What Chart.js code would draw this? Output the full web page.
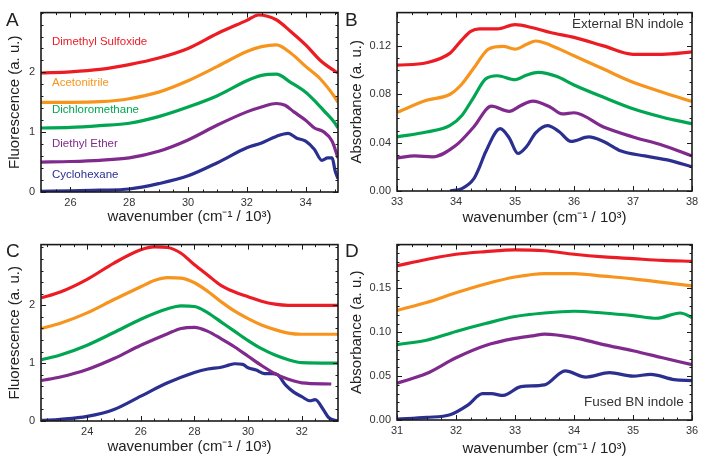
<!DOCTYPE html>
<html>
<head>
<meta charset="utf-8">
<script src="https://cdn.jsdelivr.net/npm/chart.js@4.4.1/dist/chart.umd.min.js"></script>
<style>
  html, body { margin: 0; padding: 0; background: #fff; }
  body { width: 704px; height: 464px; position: relative; overflow: hidden;
         font-family: 'Liberation Sans', Arial, Helvetica, sans-serif; }
  .wrap { position: absolute; }
  .lbl { position: absolute; white-space: nowrap; transform: translateY(-50%); line-height: 1; }
  .panel { position: absolute; font-size: 19px; color: #222; line-height: 1; }
</style>
</head>
<body>
<div class="wrap" style="left:0;top:0;width:352px;height:232px"><canvas id="cA"></canvas></div>
<div class="wrap" style="left:344px;top:0;width:360px;height:232px"><canvas id="cB"></canvas></div>
<div class="wrap" style="left:0;top:232px;width:352px;height:232px"><canvas id="cC"></canvas></div>
<div class="wrap" style="left:344px;top:232px;width:360px;height:232px"><canvas id="cD"></canvas></div>

<div class="panel" style="left:6px;top:10px">A</div>
<div class="panel" style="left:345px;top:10px">B</div>
<div class="panel" style="left:6px;top:241px">C</div>
<div class="panel" style="left:345px;top:241px">D</div>

<div class="lbl" style="left:52px;top:42px;font-size:11.5px;color:#ec1c24">Dimethyl Sulfoxide</div>
<div class="lbl" style="left:52px;top:83px;font-size:11.5px;color:#f7941d">Acetonitrile</div>
<div class="lbl" style="left:52px;top:110px;font-size:11.5px;color:#00a651">Dichloromethane</div>
<div class="lbl" style="left:52px;top:144px;font-size:11.5px;color:#7f2a8c">Diethyl Ether</div>
<div class="lbl" style="left:52px;top:175px;font-size:11.5px;color:#2b2f8f">Cyclohexane</div>
<div class="lbl" style="left:572px;top:24px;font-size:13.5px;color:#333">External BN indole</div>
<div class="lbl" style="left:584px;top:402px;font-size:13.5px;color:#333">Fused BN indole</div>

<script>
// ---------- colours per solvent ----------
const solventNames = ['Dimethyl Sulfoxide', 'Acetonitrile', 'Dichloromethane', 'Diethyl Ether', 'Cyclohexane'];
const solventColors = ['#ec1c24', '#f7941d', '#00a651', '#7f2a8c', '#2b2f8f'];

// ---------- Panel A: fluorescence, external BN indole ----------
const aXTicks = [26, 28, 30, 32, 34];
const aYTicks = [0, 1, 2];
const aDmsoX = [25, 26, 27, 28, 29, 30, 31, 32, 32.4, 33, 33.5, 34, 34.5, 35, 35.1];
const aDmsoY = [1.99, 2.01, 2.05, 2.13, 2.24, 2.40, 2.65, 2.87, 2.96, 2.88, 2.68, 2.46, 2.20, 2.02, 1.99];
const aAcnX = [25, 26, 27, 28, 29, 30, 31, 32, 32.5, 33, 33.5, 34, 34.5, 35, 35.1];
const aAcnY = [1.50, 1.50, 1.51, 1.56, 1.67, 1.86, 2.10, 2.35, 2.43, 2.46, 2.32, 2.10, 1.89, 1.58, 1.50];
const aDcmX = [25, 26, 27, 28, 29, 30, 31, 32, 32.5, 33, 33.5, 34, 34.3, 34.6, 35, 35.1];
const aDcmY = [1.07, 1.08, 1.11, 1.15, 1.26, 1.42, 1.61, 1.86, 1.95, 1.97, 1.83, 1.67, 1.53, 1.37, 1.15, 1.07];
const aEtherX = [25, 26, 27, 28, 29, 30, 31, 32, 32.5, 33, 33.3, 33.6, 34, 34.3, 34.6, 34.9, 35.1];
const aEtherY = [0.50, 0.51, 0.53, 0.57, 0.68, 0.87, 1.12, 1.34, 1.42, 1.48, 1.45, 1.34, 1.20, 1.07, 1.01, 0.85, 0.57];
const aHexX = [25, 26, 27, 28, 29, 30, 31, 32, 32.5, 33, 33.4, 33.7, 34, 34.3, 34.55, 34.75, 34.9, 35.0, 35.1];
const aHexY = [0.01, 0.02, 0.03, 0.05, 0.14, 0.27, 0.49, 0.74, 0.82, 0.93, 0.98, 0.90, 0.85, 0.71, 0.53, 0.57, 0.57, 0.36, 0.22];

// ---------- Panel B: absorbance, external BN indole ----------
const bXTicks = [33, 34, 35, 36, 37, 38];
const bYTicks = [0, 0.04, 0.08, 0.12];
const bDmsoX = [33, 33.5, 33.9, 34.1, 34.25, 34.4, 34.7, 35.0, 35.3, 35.6, 36, 36.5, 37, 37.5, 38];
const bDmsoY = [0.104, 0.106, 0.114, 0.125, 0.132, 0.134, 0.134, 0.1375, 0.135, 0.131, 0.127, 0.120, 0.113, 0.113, 0.115];
const bAcnX = [33, 33.5, 33.9, 34.1, 34.33, 34.55, 34.8, 35.0, 35.2, 35.35, 35.6, 36, 36.5, 37, 37.5, 38];
const bAcnY = [0.065, 0.075, 0.080, 0.0885, 0.1036, 0.1173, 0.1195, 0.1173, 0.1214, 0.124, 0.1206, 0.1118, 0.1008, 0.0899, 0.0817, 0.074];
const bDcmX = [33, 33.5, 33.9, 34.1, 34.3, 34.5, 34.7, 35.0, 35.2, 35.4, 35.7, 36, 36.5, 37, 37.5, 38];
const bDcmY = [0.0447, 0.0488, 0.0543, 0.0625, 0.0775, 0.0926, 0.0953, 0.092, 0.0959, 0.098, 0.0948, 0.0877, 0.0775, 0.068, 0.061, 0.0556];
const bEtherX = [33, 33.3, 33.6, 34.0, 34.3, 34.6, 34.9, 35.1, 35.3, 35.6, 35.8, 36.0, 36.5, 37, 37.5, 38];
const bEtherY = [0.0274, 0.029, 0.0282, 0.0378, 0.0529, 0.0701, 0.0658, 0.0707, 0.0743, 0.0693, 0.0638, 0.0647, 0.0529, 0.0447, 0.0378, 0.029];
const bHexX = [33.9, 34.1, 34.3, 34.4, 34.5, 34.75, 34.9, 35.05, 35.2, 35.35, 35.55, 35.75, 35.95, 36.25, 36.5, 36.8, 37.2, 37.6, 38];
const bHexY = [0.0, 0.002, 0.010, 0.020, 0.032, 0.0515, 0.044, 0.031, 0.037, 0.048, 0.054, 0.049, 0.041, 0.0447, 0.041, 0.033, 0.029, 0.0255, 0.020];

// ---------- Panel C: fluorescence, fused BN indole ----------
const cXTicks = [24, 26, 28, 30, 32];
const cYTicks = [0, 1, 2];
const cDmsoX = [22.3, 23, 24, 25, 26, 26.5, 27, 27.5, 28, 28.5, 29, 29.5, 30, 30.5, 31, 31.5, 32, 33.35];
const cDmsoY = [2.13, 2.23, 2.45, 2.73, 2.96, 3.01, 3.0, 2.9, 2.7, 2.52, 2.34, 2.23, 2.15, 2.07, 2.02, 2.0, 2.0, 2.0];
const cAcnX = [22.3, 23, 24, 25, 26, 26.5, 27, 27.5, 28, 28.5, 29, 29.5, 30, 30.5, 31, 31.5, 32, 33.35];
const cAcnY = [1.6, 1.69, 1.87, 2.1, 2.32, 2.43, 2.48, 2.47, 2.39, 2.24, 2.06, 1.9, 1.77, 1.66, 1.58, 1.52, 1.50, 1.50];
const cDcmX = [22.3, 23, 24, 25, 26, 27, 27.5, 28, 28.5, 29, 29.5, 30, 30.5, 31, 31.5, 32, 33.35];
const cDcmY = [1.06, 1.14, 1.31, 1.53, 1.76, 1.94, 1.99, 1.98, 1.87, 1.71, 1.55, 1.39, 1.25, 1.14, 1.06, 1.01, 1.0];
const cEtherX = [22.3, 23, 24, 25, 26, 27, 27.5, 28, 28.5, 29, 29.5, 30, 30.5, 31, 31.5, 32, 33.1];
const cEtherY = [0.70, 0.76, 0.89, 1.08, 1.31, 1.51, 1.6, 1.62, 1.55, 1.42, 1.28, 1.12, 0.96, 0.82, 0.72, 0.66, 0.64];
const cHexX = [22.3, 23, 24, 25, 26, 27, 28, 28.5, 29, 29.3, 29.5, 29.8, 30, 30.3, 30.6, 30.9, 31.1, 31.4, 31.7, 32, 32.3, 32.5, 32.8, 33.0, 33.35];
const cHexY = [0.01, 0.03, 0.08, 0.2, 0.43, 0.66, 0.84, 0.9, 0.93, 0.97, 0.99, 0.98, 0.92, 0.88, 0.82, 0.82, 0.8, 0.62, 0.5, 0.42, 0.35, 0.37, 0.2, 0.06, 0.0];

// ---------- Panel D: absorbance, fused BN indole ----------
const dXTicks = [31, 32, 33, 34, 35, 36];
const dYTicks = [0, 0.05, 0.10, 0.15];
const dDmsoX = [31, 31.5, 32, 32.5, 33, 33.5, 34, 34.5, 35, 35.5, 36];
const dDmsoY = [0.176, 0.183, 0.189, 0.192, 0.194, 0.193, 0.189, 0.186, 0.184, 0.182, 0.181];
const dAcnX = [31, 31.5, 32, 32.5, 33, 33.5, 34, 34.5, 35, 35.5, 36];
const dAcnY = [0.125, 0.134, 0.145, 0.155, 0.163, 0.167, 0.167, 0.164, 0.161, 0.157, 0.153];
const dDcmX = [31, 31.5, 32, 32.5, 33, 33.5, 34, 34.5, 35, 35.4, 35.8, 36];
const dDcmY = [0.086, 0.091, 0.101, 0.110, 0.118, 0.122, 0.124, 0.122, 0.119, 0.116, 0.122, 0.117];
const dEtherX = [31, 31.5, 32, 32.5, 33, 33.3, 33.5, 34, 34.5, 35, 35.5, 36];
const dEtherY = [0.042, 0.053, 0.071, 0.085, 0.093, 0.096, 0.098, 0.094, 0.086, 0.079, 0.071, 0.063];
const dHexX = [31, 31.5, 31.9, 32.2, 32.45, 32.6, 32.8, 33.1, 33.5, 33.85, 34.2, 34.6, 35, 35.3, 35.7, 36];
const dHexY = [0.001, 0.003, 0.006, 0.017, 0.030, 0.030, 0.028, 0.038, 0.040, 0.056, 0.049, 0.054, 0.050, 0.052, 0.046, 0.045];

const xTitle = 'wavenumber (cm\u207B\u00B9 / 10\u00B3)';
const FONT = "'Liberation Sans', Arial, Helvetica, sans-serif";

function series(xs, ys, i) {
  return {
    label: solventNames[i],
    data: xs.map((x, k) => ({ x: x, y: ys[k] })),
    borderColor: solventColors[i],
    borderWidth: 3.2,
    pointRadius: 0,
    fill: false,
    cubicInterpolationMode: 'monotone',
    showLine: true
  };
}

const framePlugin = {
  id: 'frame',
  afterDatasetsDraw(chart, args, opts) {
    const { ctx, chartArea: a } = chart;
    const xs = chart.scales.x, ys = chart.scales.y;
    ctx.save();
    ctx.strokeStyle = '#1a1a1a';
    ctx.lineWidth = 1;
    ctx.beginPath();
    const drawX = (v, len) => {
      const p = Math.round(xs.getPixelForValue(v)) + 0.5;
      ctx.moveTo(p, a.bottom); ctx.lineTo(p, a.bottom - len);
      ctx.moveTo(p, a.top); ctx.lineTo(p, a.top + len);
    };
    const drawY = (v, len) => {
      const p = Math.round(ys.getPixelForValue(v)) + 0.5;
      ctx.moveTo(a.left, p); ctx.lineTo(a.left + len, p);
      ctx.moveTo(a.right, p); ctx.lineTo(a.right - len, p);
    };
    xs.ticks.forEach(t => drawX(t.value, 5));
    ys.ticks.forEach(t => drawY(t.value, 5));
    const mx = opts.minorX, my = opts.minorY;
    for (let v = Math.ceil(xs.min / mx - 1e-9) * mx; v <= xs.max + 1e-9; v += mx) drawX(v, 2.5);
    for (let v = Math.ceil(ys.min / my - 1e-9) * my; v <= ys.max + 1e-9; v += my) drawY(v, 2.5);
    ctx.stroke();
    ctx.lineWidth = 1.6;
    ctx.strokeRect(a.left, a.top, a.right - a.left, a.bottom - a.top);
    ctx.restore();
  }
};

function makeChart(id, datasets, c) {
  return new Chart(document.getElementById(id), {
    type: 'scatter',
    data: { datasets: datasets },
    plugins: [framePlugin],
    options: {
      responsive: true,
      maintainAspectRatio: false,
      animation: false,
      layout: { padding: { top: c.padTop, right: c.padRight, left: 0, bottom: 0 } },
      plugins: {
        legend: { display: false },
        tooltip: { enabled: false },
        frame: { minorX: c.minorX, minorY: c.minorY }
      },
      scales: {
        x: {
          type: 'linear', min: c.xMin, max: c.xMax,
          grid: { display: false, drawTicks: false },
          border: { display: false },
          afterBuildTicks: s => { s.ticks = c.xTicks.map(v => ({ value: v })); },
          afterFit: s => { s.height = c.xHeight; },
          ticks: { color: '#333', font: { family: FONT, size: 11 }, padding: 4, maxRotation: 0,
                   callback: v => String(v) },
          title: { display: true, text: xTitle, color: '#222', font: { family: FONT, size: 15 },
                   padding: { top: 0, bottom: c.xTitlePad } }
        },
        y: {
          type: 'linear', min: c.yMin, max: c.yMax,
          grid: { display: false, drawTicks: false },
          border: { display: false },
          afterBuildTicks: s => { s.ticks = c.yTicks.map(v => ({ value: v })); },
          afterFit: s => { s.width = c.yWidth; },
          ticks: { color: '#333', font: { family: FONT, size: 11 }, padding: 6,
                   callback: v => v.toFixed(c.yDec) },
          title: { display: true, text: c.yTitle, color: '#222', font: { family: FONT, size: 15 },
                   padding: { top: c.yTitlePad, bottom: 0 } }
        }
      }
    }
  });
}

makeChart('cA', [
  series(aDmsoX, aDmsoY, 0), series(aAcnX, aAcnY, 1), series(aDcmX, aDcmY, 2),
  series(aEtherX, aEtherY, 3), series(aHexX, aHexY, 4)
], { xMin: 25, xMax: 35.1, yMin: 0, yMax: 3.0, xTicks: aXTicks, yTicks: aYTicks, yDec: 0,
     yTitle: 'Fluorescence (a. u.)', yWidth: 41, xHeight: 40, padTop: 9, padRight: 14,
     xTitlePad: 6, yTitlePad: 6, minorX: 0.5, minorY: 0.2 });

makeChart('cB', [
  series(bDmsoX, bDmsoY, 0), series(bAcnX, bAcnY, 1), series(bDcmX, bDcmY, 2),
  series(bEtherX, bEtherY, 3), series(bHexX, bHexY, 4)
], { xMin: 33, xMax: 38, yMin: 0, yMax: 0.1475, xTicks: bXTicks, yTicks: bYTicks, yDec: 2,
     yTitle: 'Absorbance (a. u.)', yWidth: 53, xHeight: 41, padTop: 9, padRight: 12,
     xTitlePad: 5, yTitlePad: 4, minorX: 0.25, minorY: 0.01 });

makeChart('cC', [
  series(cDmsoX, cDmsoY, 0), series(cAcnX, cAcnY, 1), series(cDcmX, cDcmY, 2),
  series(cEtherX, cEtherY, 3), series(cHexX, cHexY, 4)
], { xMin: 22.28, xMax: 33.35, yMin: 0, yMax: 3.05, xTicks: cXTicks, yTicks: cYTicks, yDec: 0,
     yTitle: 'Fluorescence (a. u.)', yWidth: 41, xHeight: 43, padTop: 6, padRight: 14,
     xTitlePad: 8, yTitlePad: 6, minorX: 0.5, minorY: 0.2 });

makeChart('cD', [
  series(dDmsoX, dDmsoY, 0), series(dAcnX, dAcnY, 1), series(dDcmX, dDcmY, 2),
  series(dEtherX, dEtherY, 3), series(dHexX, dHexY, 4)
], { xMin: 31, xMax: 36, yMin: 0, yMax: 0.2, xTicks: dXTicks, yTicks: dYTicks, yDec: 2,
     yTitle: 'Absorbance (a. u.)', yWidth: 53, xHeight: 44, padTop: 6, padRight: 12,
     xTitlePad: 6, yTitlePad: 4, minorX: 0.25, minorY: 0.01 });
</script>
</body>
</html>
